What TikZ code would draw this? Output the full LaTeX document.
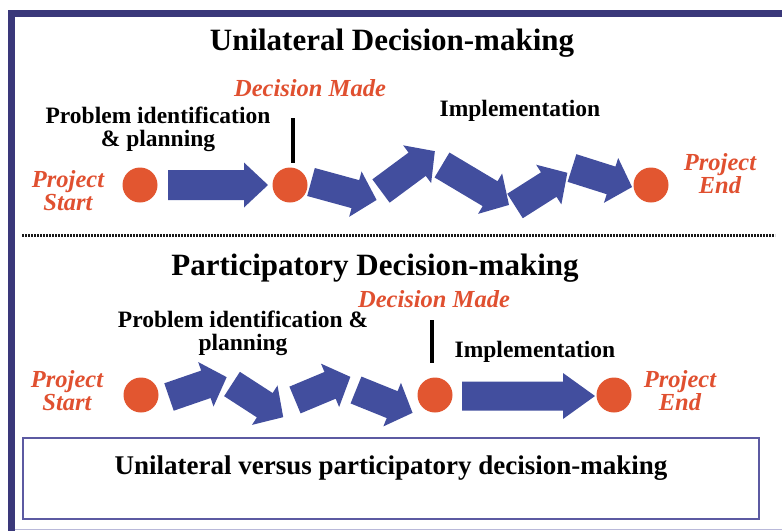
\documentclass[tikz,border=0pt]{standalone}
\usepackage{fontspec}
\setmainfont{Liberation Serif}
\definecolor{arrowblue}{RGB}{66,78,158}
\definecolor{dotorange}{RGB}{226,86,48}
\definecolor{labelred}{RGB}{224,80,48}
\definecolor{framecol}{RGB}{58,56,122}
\definecolor{boxcol}{RGB}{92,90,162}
\definecolor{lavender}{RGB}{185,185,218}
% #1 x, #2 y, #3 angle, #4 length, #5 shaft half, #6 head half, #7 head length
\newcommand\blockarrow[7]{%
  \begin{scope}[shift={(#1,#2)},rotate=#3]
    \fill[arrowblue] (0,-#5) -- ({#4-#7},-#5) -- ({#4-#7},-#6) -- (#4,0)
      -- ({#4-#7},#6) -- ({#4-#7},#5) -- (0,#5) -- cycle;
  \end{scope}}
\begin{document}
\begin{tikzpicture}[x=1pt,y=-1pt,
  dotnode/.style={circle,fill=dotorange,minimum size=35pt,inner sep=0pt},
  lbl/.style={font=\fontsize{23.5}{23}\selectfont\bfseries,inner sep=0pt,align=center},
  redlbl/.style={font=\fontsize{24.5}{23}\selectfont\bfseries\itshape,text=labelred,inner sep=0pt,align=center},
  ttl/.style={font=\fontsize{31}{33}\selectfont\bfseries,inner sep=0pt},
  barline/.style={line width=4pt,black},
]
\useasboundingbox (0,0) rectangle (782,531);
% frame
\fill[framecol] (8,10) rectangle (782,17);
\fill[framecol] (8,10) rectangle (15,531);
\draw[lavender,line width=1.2pt] (15,529.5) -- (782,529.5);

% ---------- top: unilateral ----------
\node[ttl,anchor=base] (t1) at (392,50) {Unilateral Decision-making};
\node[redlbl,anchor=base] (dm1) at (310,96) {Decision Made};
\node[lbl] (pi1) at (158,129) {Problem identification\\\& planning};
\node[lbl,anchor=base] (im1) at (520,116) {Implementation};
\node[redlbl] (ps1) at (68,191) {Project\\Start};
\node[redlbl] (pe1) at (720,174) {Project\\End};

\node[dotnode] (s1) at (140,185) {};
\node[dotnode] (d1) at (290,185) {};
\node[dotnode] (e1) at (651,185) {};
\coordinate (b1top) at (292.5,118);
\coordinate (b1bot) at (292.5,163);
\draw[barline] (b1top) -- (b1bot);

\blockarrow{168}{185}{0}{100}{15}{22.5}{24}
\blockarrow{311}{182}{-15.3}{68}{14.5}{23.5}{22}
\blockarrow{381}{191}{36.5}{67}{14.5}{23.5}{22}
\blockarrow{442}{165}{-30.8}{78}{14.5}{23.5}{22}
\blockarrow{515}{206}{32.4}{62}{14.5}{23.5}{22}
\blockarrow{572}{168}{-17.6}{63}{14.5}{23.5}{22}

% dotted separator
\coordinate (sepL) at (22,235);
\coordinate (sepR) at (775,235);
\draw[line width=3pt,dash pattern=on 2pt off 1pt,black!90] (sepL) -- (sepR);

% ---------- bottom: participatory ----------
\node[ttl,anchor=base] (t2) at (375,275) {Participatory Decision-making};
\node[redlbl,anchor=base] (dm2) at (434,307) {Decision Made};
\node[lbl] (pi2) at (243,333) {Problem identification \&\\planning};
\node[lbl,anchor=base] (im2) at (535,357) {Implementation};
\node[redlbl] (ps2) at (67,391) {Project\\Start};
\node[redlbl] (pe2) at (680,391) {Project\\End};

\node[dotnode] (s2) at (141,395) {};
\node[dotnode] (d2) at (435,395) {};
\node[dotnode] (e2) at (614,395) {};
\coordinate (b2top) at (432,320);
\coordinate (b2bot) at (432,363);
\draw[barline] (b2top) -- (b2bot);

\blockarrow{169}{397}{19}{61}{14.5}{23.5}{22}
\blockarrow{232}{384}{-32.9}{61}{14.5}{23.5}{22}
\blockarrow{295}{400}{22.7}{60}{14.5}{23.5}{22}
\blockarrow{356}{390}{-22}{61}{14.5}{23.5}{22}
\blockarrow{462}{396}{0}{133}{14.5}{23}{32}

% caption box
\node[draw=boxcol,line width=1.6pt,minimum width=736pt,minimum height=81pt,inner sep=0pt] (box) at (391,478.5) {};
\node[font=\fontsize{27}{29}\selectfont\bfseries,inner sep=0pt,anchor=base] (cap) at (391,474) {Unilateral versus participatory decision-making};
\end{tikzpicture}
\end{document}
